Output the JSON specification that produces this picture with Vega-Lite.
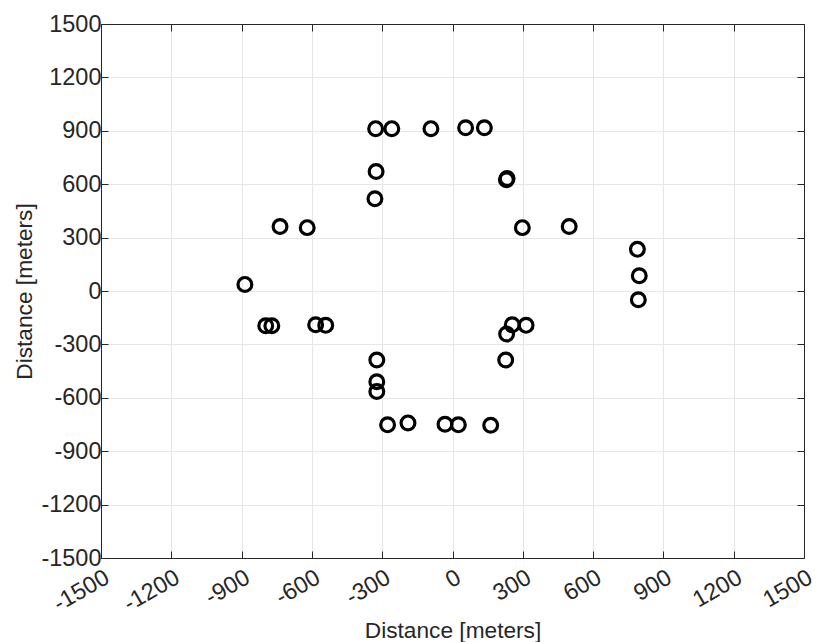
{
  "$schema": "https://vega.github.io/schema/vega-lite/v6.json",
  "autosize": "none",
  "width": 703,
  "height": 534,
  "padding": {"left": 101, "top": 24, "right": 26, "bottom": 84},
  "background": "white",
  "config": {
    "view": {"stroke": null},
    "font": "Liberation Sans",
    "axis": {
      "labelFont": "Liberation Sans",
      "titleFont": "Liberation Sans",
      "labelColor": "#262626",
      "titleColor": "#262626",
      "titleFontWeight": "normal",
      "domainColor": "#262626",
      "tickColor": "#262626",
      "gridColor": "#e6e6e6",
      "gridWidth": 1,
      "domainWidth": 1,
      "tickWidth": 1,
      "tickSize": -7
    }
  },
  "data": {
    "values": [
      {"x": -328, "y": 912}, {"x": -259, "y": 912}, {"x": -92, "y": 912},
      {"x": 56, "y": 917}, {"x": 136, "y": 917},
      {"x": -326, "y": 671}, {"x": -331, "y": 518},
      {"x": 230, "y": 625}, {"x": 233, "y": 632},
      {"x": -736, "y": 362}, {"x": -620, "y": 356},
      {"x": 298, "y": 356}, {"x": 498, "y": 362},
      {"x": -886, "y": 37},
      {"x": -797, "y": -195}, {"x": -771, "y": -195},
      {"x": -584, "y": -190}, {"x": -541, "y": -193},
      {"x": 255, "y": -190}, {"x": 314, "y": -193}, {"x": 231, "y": -242},
      {"x": -323, "y": -388}, {"x": -323, "y": -510}, {"x": -323, "y": -565},
      {"x": -277, "y": -752}, {"x": -190, "y": -741}, {"x": -32, "y": -749},
      {"x": 25, "y": -752}, {"x": 163, "y": -754},
      {"x": 227, "y": -388},
      {"x": 789, "y": 234}, {"x": 797, "y": 86}, {"x": 793, "y": -49}
    ]
  },
  "layer": [
    {
      "mark": {"type": "point", "opacity": 0},
      "encoding": {
        "x": {"field": "x", "type": "quantitative",
          "scale": {"domain": [-1500, 1500], "nice": false, "zero": false},
          "axis": {"orient": "top", "labels": false, "title": null, "grid": false, "values": [-1500,-1200,-900,-600,-300,0,300,600,900,1200,1500]}},
        "y": {"field": "y", "type": "quantitative",
          "scale": {"domain": [-1500, 1500], "nice": false, "zero": false},
          "axis": {"orient": "right", "labels": false, "title": null, "grid": false, "values": [-1500,-1200,-900,-600,-300,0,300,600,900,1200,1500]}}
      }
    },
    {
      "mark": {"type": "point", "shape": "circle", "filled": false, "stroke": "black", "strokeWidth": 3.2, "size": 190, "opacity": 1},
      "encoding": {
        "x": {"field": "x", "type": "quantitative",
          "scale": {"domain": [-1500, 1500], "nice": false, "zero": false},
          "axis": {"orient": "bottom", "title": "Distance [meters]", "grid": true,
            "values": [-1500,-1200,-900,-600,-300,0,300,600,900,1200,1500],
            "labelExpr": "datum.value + ''",
            "labelFontSize": 23.5, "titleFontSize": 22.7,
            "labelAngle": -30, "labelAlign": "right", "labelBaseline": "top", "labelPadding": 14,
            "labelOverlap": false, "labelFlush": false,
            "titleX": 351.5, "titleY": 79, "titleBaseline": "alphabetic", "titleAlign": "center"}},
        "y": {"field": "y", "type": "quantitative",
          "scale": {"domain": [-1500, 1500], "nice": false, "zero": false},
          "axis": {"orient": "left", "title": "Distance [meters]", "grid": true,
            "values": [-1500,-1200,-900,-600,-300,0,300,600,900,1200,1500],
            "labelExpr": "datum.value + ''",
            "labelFontSize": 23.5, "titleFontSize": 22.7,
            "labelPadding": 7, "labelOverlap": false, "labelFlush": false,
            "titleX": -77, "titleY": 267, "titleAngle": -90, "titleAlign": "center", "titleBaseline": "middle"}}
      }
    }
  ]
}
